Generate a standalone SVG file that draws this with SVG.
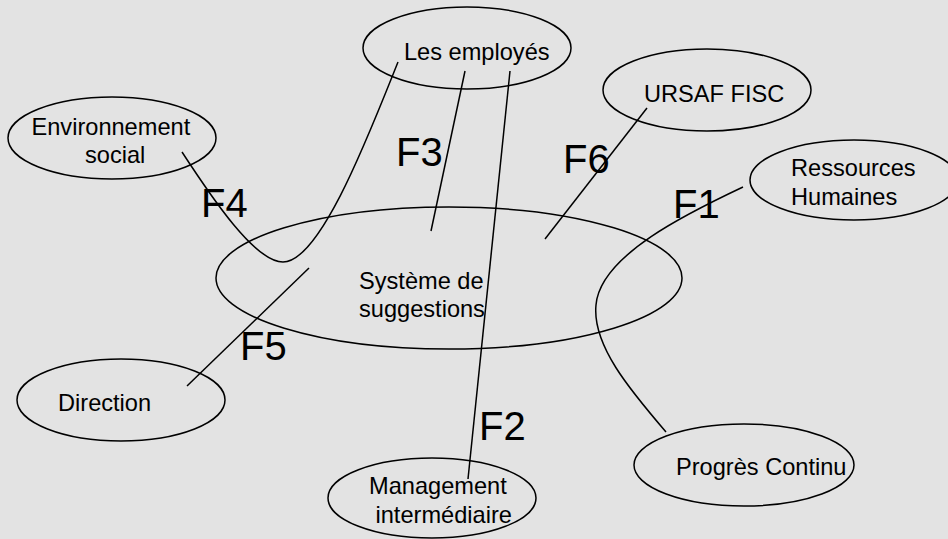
<svg xmlns="http://www.w3.org/2000/svg" width="948" height="539" viewBox="0 0 948 539">
  <style>
    .node ellipse { fill: none; stroke: #000; stroke-width: 1.5; }
    .node text { font-family: "Liberation Sans", Arial, sans-serif; font-size: 23.6px; fill: #000; }
    .links path { fill: none; stroke: #000; stroke-width: 1.5; }
    .flow { font-family: "Liberation Sans", Arial, sans-serif; font-size: 40px; fill: #000; }
  </style>
  <rect width="948" height="539" fill="#e3e3e3"/>

  <!-- flows between the suggestion system and its partners -->
  <g class="links">
    <path id="f4" d="M182,152 C212,198 255,262 283,262 C320,262 368,137 398,62"/>
    <path id="f3" d="M465,71 L431,231"/>
    <path id="f2" d="M510,71 L468,479"/>
    <path id="f6" d="M647,108 L545,239"/>
    <path id="f1" d="M743,187 C690,212 600,255 596,305 C592,345 630,390 666,432"/>
    <path id="f5" d="M309,268 L187,386"/>
  </g>

  <g id="systeme" class="node">
    <ellipse cx="449" cy="278" rx="233" ry="71"/>
    <text x="359" y="289">Système de</text>
    <text x="359" y="317">suggestions</text>
  </g>
  <g id="employes" class="node">
    <ellipse cx="467" cy="48" rx="104" ry="41"/>
    <text x="404" y="60">Les employés</text>
  </g>
  <g id="environnement" class="node">
    <ellipse cx="112" cy="138" rx="104" ry="41"/>
    <text x="31.5" y="135">Environnement</text>
    <text x="85" y="163">social</text>
  </g>
  <g id="ursaf" class="node">
    <ellipse cx="707" cy="90" rx="104" ry="41"/>
    <text x="644" y="102">URSAF FISC</text>
  </g>
  <g id="rh" class="node">
    <ellipse cx="854" cy="180" rx="104" ry="40"/>
    <text x="791" y="176">Ressources</text>
    <text x="791" y="205">Humaines</text>
  </g>
  <g id="direction" class="node">
    <ellipse cx="121" cy="400" rx="104" ry="41"/>
    <text x="58" y="411">Direction</text>
  </g>
  <g id="management" class="node">
    <ellipse cx="432" cy="498" rx="104" ry="40"/>
    <text x="369" y="494">Management</text>
    <text x="375.5" y="523">intermédiaire</text>
  </g>
  <g id="progres" class="node">
    <ellipse cx="744" cy="465" rx="110" ry="41"/>
    <text x="676" y="475">Progrès Continu</text>
  </g>

  <!-- flow labels -->
  <g id="labels">
    <text class="flow" x="396" y="166">F3</text>
    <text class="flow" x="563" y="173">F6</text>
    <text class="flow" x="201" y="217">F4</text>
    <text class="flow" x="673" y="218">F1</text>
    <text class="flow" x="240" y="360">F5</text>
    <text class="flow" x="479" y="440">F2</text>
  </g>
</svg>
